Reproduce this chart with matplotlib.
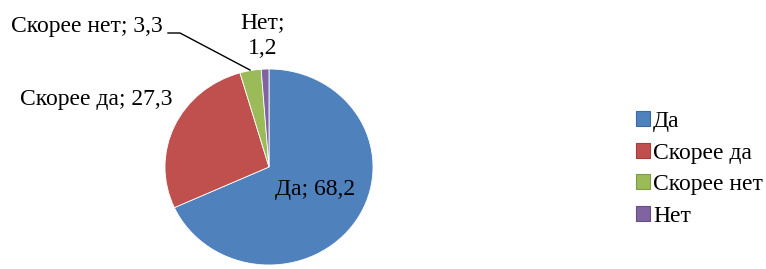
import matplotlib
matplotlib.use("Agg")
import matplotlib.pyplot as plt
from matplotlib.patches import Patch

labels = ["Да", "Скорее да", "Скорее нет", "Нет"]
values = [68.2, 27.3, 3.3, 1.2]
colors = ["#4F81BD", "#C0504D", "#9BBB59", "#8064A2"]
edges = ["#3A6AA3", "#A33E3B", "#7E9B44", "#654E86"]

W, H = 766, 269
FS = 17
plt.rcParams["font.family"] = ["Liberation Serif", "DejaVu Serif"]

fig = plt.figure(figsize=(W / 100, H / 100), dpi=100)
fig.patch.set_facecolor("white")

# pie box in pixels: x 165..373, y 69..267 (from top)
cx, cy, rx, ry = 269, 167, 104, 98
ax = fig.add_axes([(cx - rx) / W, (H - cy - ry) / H, 2 * rx / W, 2 * ry / H])

wedges, _ = ax.pie(values, colors=colors, startangle=90, counterclock=False,
                   radius=1.0)
for w in wedges:
    w.set_edgecolor("white")
    w.set_linewidth(0.6)

ax.set_xlim(-1, 1)
ax.set_ylim(-1, 1)
ax.set_aspect("auto")
ax.axis("off")


def px(x, y):
    return (x - cx) / rx, (cy - y) / ry


def fmt(v):
    return str(v).replace(".", ",")


# data labels
ax.text(*px(315, 189), f"{labels[0]}; {fmt(values[0])}", fontsize=FS,
        ha="center", va="center", clip_on=False)
ax.text(*px(173, 100), f"{labels[1]}; {fmt(values[1])}", fontsize=FS,
        ha="right", va="center", clip_on=False)
ax.text(*px(163, 27), f"{labels[2]}; {fmt(values[2])}", fontsize=FS,
        ha="right", va="center", clip_on=False)
ax.text(*px(263, 36), f"{labels[3]};\n{fmt(values[3])}", fontsize=FS,
        ha="center", va="center", linespacing=1.3, clip_on=False)

# leader line for "Скорее нет"
pts = [px(168, 33), px(180, 33), px(250, 70)]
ax.plot([p[0] for p in pts], [p[1] for p in pts], color="black",
        linewidth=1.0, clip_on=False)

# legend
handles = [Patch(facecolor=c, edgecolor=e, linewidth=0.8) for c, e in zip(colors, edges)]
fig.legend(handles, labels, loc="upper left", bbox_to_anchor=(636 / W, 1 - 111 / H),
           frameon=False, fontsize=FS, handlelength=0.6, handleheight=0.6,
           handletextpad=0.12, labelspacing=0.45, borderaxespad=0, borderpad=0)

fig.savefig("out.png", dpi=100, facecolor="white")
